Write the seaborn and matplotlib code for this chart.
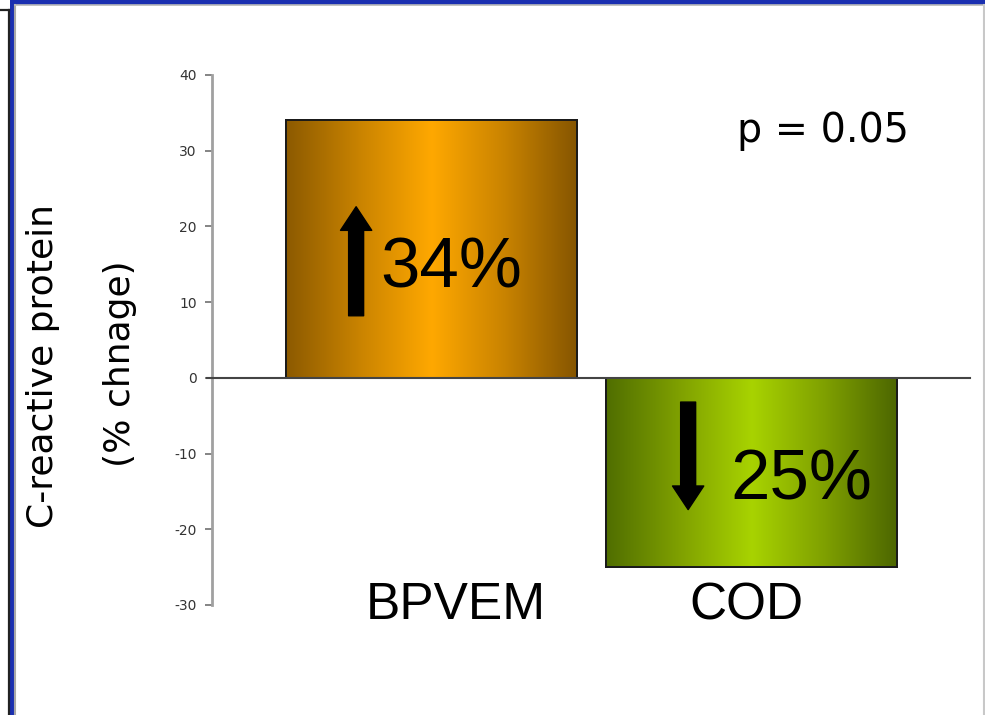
import numpy as np
import pandas as pd
import matplotlib
matplotlib.use("Agg")
import matplotlib.pyplot as plt
import seaborn as sns
from matplotlib.colors import LinearSegmentedColormap
from matplotlib.patches import Rectangle
from matplotlib.lines import Line2D

# Data
groups = ["BPVEM", "COD"]
change = [34, -25]
p_text = "p = 0.05"
yticks = [-30, -20, -10, 0, 10, 20, 30, 40]

# Bar shading: dark edge -> bright centre -> dark edge
shades = {
    "BPVEM": ["#8c5a00", "#c98300", "#ffa800", "#c98300", "#855500"],
    "COD": ["#506e00", "#7fa000", "#a8d300", "#7fa000", "#4c6600"],
}

W, H = 985, 715
fig = plt.figure(figsize=(W / 100, H / 100), dpi=100)
fig.patch.set_facecolor("white")

def fx(px):
    return px / W

def fy(py):
    return 1 - py / H

# Slide frame
fig.patches.append(Rectangle((fx(12), fy(4.5)), 1, 4.5 / H, transform=fig.transFigure,
                             facecolor="#1a2fb0", edgecolor="none", zorder=0))
fig.patches.append(Rectangle((fx(9.5), 0), 4 / W, 1, transform=fig.transFigure,
                             facecolor="#1a2fb0", edgecolor="none", zorder=0))
fig.lines.append(Line2D([fx(14.5), fx(14.5)], [0, fy(4.5)], transform=fig.transFigure,
                        color="#a8a8a8", lw=1.5))
fig.lines.append(Line2D([fx(14.5), 1], [fy(5), fy(5)], transform=fig.transFigure,
                        color="#b8b8b8", lw=1.2))
fig.lines.append(Line2D([fx(983.5), fx(983.5)], [0, fy(4.5)], transform=fig.transFigure,
                        color="#c8c8c8", lw=1.5))
fig.lines.append(Line2D([fx(8.5), fx(8.5)], [0, fy(9.5)], transform=fig.transFigure,
                        color="#222222", lw=1.6))
fig.lines.append(Line2D([0, fx(8.5)], [fy(9.5), fy(9.5)], transform=fig.transFigure,
                        color="#222222", lw=1.6))

ax = fig.add_axes([fx(212), fy(605), fx(970) - fx(212), (605 - 75) / H])
ax.set_facecolor("none")

df = pd.DataFrame({"group": groups, "change": change})
sns.barplot(data=df, x="group", y="change", hue="group", legend=False,
            palette={g: shades[g][2] for g in groups}, width=0.911,
            edgecolor="#1a1a1a", linewidth=1.4, ax=ax, zorder=2)

# Horizontal gradient fill clipped to each bar
grad = np.linspace(0, 1, 256).reshape(1, -1)
for patch, g in zip(ax.patches, groups):
    x0, y0 = patch.get_x(), patch.get_y()
    w, h = patch.get_width(), patch.get_height()
    cmap = LinearSegmentedColormap.from_list(g, shades[g])
    im = ax.imshow(grad, extent=[x0, x0 + w, min(y0, y0 + h), max(y0, y0 + h)],
                   aspect="auto", cmap=cmap, zorder=2.5, interpolation="bicubic")
    im.set_clip_path(patch)
    edge = Rectangle((x0, y0), w, h, facecolor="none", edgecolor="#1a1a1a",
                     lw=1.4, zorder=3)
    ax.add_patch(edge)

ax.set_xlim(-0.687, 1.685)
ax.set_ylim(-30, 40)

# Zero baseline
ax.plot([-0.703, 1.685], [0, 0], color="#444444", lw=1.5, zorder=4, clip_on=False)

# Axes styling
for s in ["top", "right", "bottom"]:
    ax.spines[s].set_visible(False)
ax.spines["left"].set_color("#a0a0a0")
ax.spines["left"].set_linewidth(2)
ax.set_yticks(yticks)
ax.set_yticklabels([str(t) for t in yticks])
ax.tick_params(axis="y", direction="out", length=5, width=1.2, color="#707070",
               labelsize=10, labelcolor="#333333", pad=6)
ax.set_xticks([])
ax.set_xlabel("")
ax.set_ylabel("")

# Category names under the bars
name_shift = [0.077, -0.016]
for i, (g, s) in enumerate(zip(groups, name_shift)):
    ax.text(i + s, -30.1, g, ha="center", va="center", fontsize=37,
            family="Liberation Sans", color="black", clip_on=False)

# Change annotations: arrows and percentages
arrows = [((-0.236, 8.2), (-0.236, 22.6)), ((0.803, -3.2), (0.803, -17.4))]
pct_pos = [(-0.161, 11.9), (0.934, -16.1)]
for (tail, tip), (px, py), v in zip(arrows, pct_pos, change):
    ax.annotate("", xy=tip, xytext=tail,
                arrowprops=dict(arrowstyle="simple,head_length=17,head_width=22.5,tail_width=10.8",
                                mutation_scale=1, color="black", shrinkA=0, shrinkB=0),
                zorder=5)
    ax.text(px, py, f"{abs(v)}%", ha="left", va="baseline", fontsize=51,
            family="Liberation Sans", color="black", zorder=5)

# p-value
fig.text(fx(737), fy(142), p_text, ha="left", va="baseline", fontsize=28.5,
         family="DejaVu Sans", color="black")

# Y axis title, two lines
fig.text(fx(43), fy(366), "C-reactive protein", rotation=90, ha="center", va="center",
         fontsize=26, family="DejaVu Sans", color="black")
fig.text(fx(120), fy(364), "(% chnage)", rotation=90, ha="center", va="center",
         fontsize=26, family="DejaVu Sans", color="black")

fig.savefig("out.png", dpi=100, facecolor="white")
